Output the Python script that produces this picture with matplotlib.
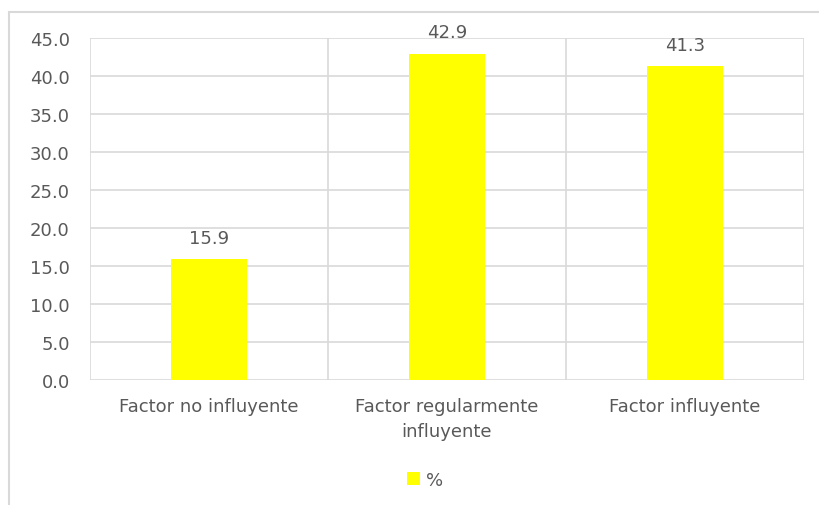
import matplotlib.pyplot as plt
from matplotlib.patches import Rectangle

categorias = ["Factor no influyente", "Factor regularmente\ninfluyente", "Factor influyente"]
porcentajes = [15.9, 42.9, 41.3]
yticks = [0, 5, 10, 15, 20, 25, 30, 35, 40, 45]

gris = "#595959"
linea = "#d9d9d9"
plt.rcParams["font.family"] = ["DejaVu Sans"]

fig = plt.figure(figsize=(8.2, 5.06), dpi=100)
ax = fig.add_axes([90 / 820, 1 - 381 / 506, 714 / 820, 342 / 506])

# marco del grafico (cortado a la derecha y abajo)
fig.patches.append(Rectangle((9 / 820, -0.1), 1.2, 1 - 13 / 506 + 0.1,
                             transform=fig.transFigure, fill=False,
                             edgecolor=linea, linewidth=1.5))

x = range(len(categorias))
barras = ax.bar(x, porcentajes, width=0.32, color="#ffff00", label="%", zorder=3)
for b, v in zip(barras, porcentajes):
    ax.annotate(f"{v:.1f}", (b.get_x() + b.get_width() / 2, v), xytext=(0, 9),
                textcoords="offset points", ha="center", va="bottom",
                fontsize=13, color=gris)

ax.set_xlim(-0.5, 2.5)
ax.set_ylim(0, 45)
ax.set_yticks(yticks)
ax.set_yticklabels([f"{t:.1f}" for t in yticks])
ax.set_xticks(list(x))
ax.set_xticklabels(categorias, linespacing=1.55)
ax.tick_params(length=0, labelsize=13, labelcolor=gris)
ax.tick_params(axis="y", pad=14.5)
ax.tick_params(axis="x", pad=12)

# lineas de division horizontales y verticales
for t in yticks:
    ax.axhline(t, color=linea, linewidth=1.2, zorder=1)
for s in [-0.5, 0.5, 1.5, 2.5]:
    ax.axvline(s, color=linea, linewidth=1.2, zorder=1)
for sp in ax.spines.values():
    sp.set_visible(False)

fig.legend(loc="center", bbox_to_anchor=(425 / 820, 1 - 481 / 506), frameon=False,
           fontsize=13, labelcolor=gris, handlelength=0.7, handleheight=0.7,
           handletextpad=0.35)

fig.savefig("out.png", dpi=100)
